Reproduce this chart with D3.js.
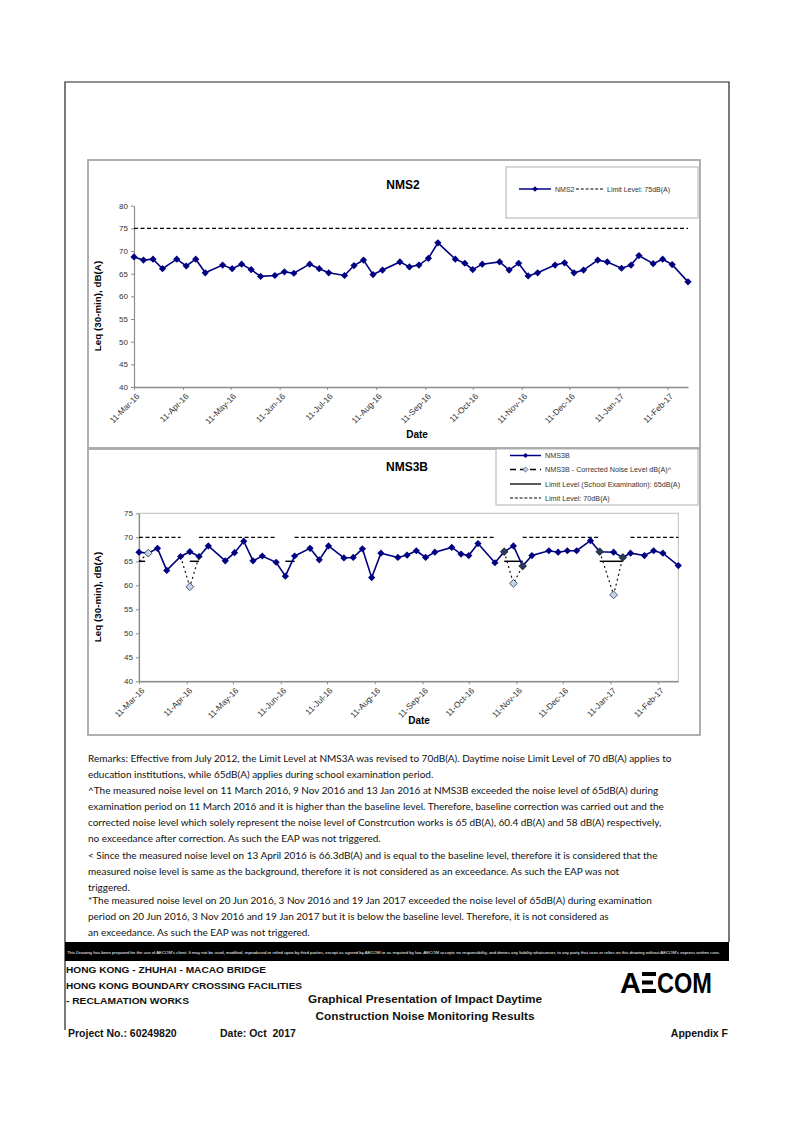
<!DOCTYPE html>
<html>
<head>
<meta charset="utf-8">
<script src="https://cdn.jsdelivr.net/npm/d3@7"></script>
<style>
  body { margin: 0; background: #fff; }
  svg { display: block; }
  .ax text { font-family: "Liberation Sans", Arial, sans-serif; font-size: 8px; fill: #333; }
  .ax path, .ax line { stroke: #8c8c8c; }
</style>
</head>
<body>
<svg id="page" width="794" height="1122"></svg>
<script>
// sampling dates, shared by both stations
const dates = [
  "2016-03-11","2016-03-17","2016-03-23","2016-03-29","2016-04-07","2016-04-13","2016-04-19","2016-04-25",
  "2016-05-06","2016-05-12","2016-05-18","2016-05-24","2016-05-30","2016-06-08","2016-06-14","2016-06-20",
  "2016-06-30","2016-07-06","2016-07-12","2016-07-22","2016-07-28","2016-08-03","2016-08-09","2016-08-15",
  "2016-08-26","2016-09-01","2016-09-07","2016-09-13","2016-09-19","2016-09-30","2016-10-06","2016-10-11",
  "2016-10-17","2016-10-28","2016-11-03","2016-11-09","2016-11-15","2016-11-21","2016-12-02","2016-12-08",
  "2016-12-14","2016-12-20","2016-12-29","2017-01-04","2017-01-13","2017-01-19","2017-01-24","2017-02-02",
  "2017-02-08","2017-02-14","2017-02-24"
];

const nms2 = [
  68.7, 68.0, 68.2, 66.1, 68.2, 66.7, 68.2, 65.2,
  66.9, 66.1, 67.1, 65.9, 64.4, 64.6, 65.4, 65.1,
  67.1, 66.1, 65.2, 64.6, 66.8, 68.0, 64.8, 65.8,
  67.6, 66.5, 66.9, 68.4, 71.8, 68.2, 67.3, 65.9,
  67.1, 67.6, 65.8, 67.3, 64.5, 65.2, 66.9, 67.4,
  65.2, 65.8, 68.0, 67.6, 66.2, 66.9, 69.0, 67.2,
  68.2, 67.0, 63.2
];

const nms3b = [
  66.9, 66.7, 67.7, 63.1, 66.0, 67.0, 66.0, 68.2,
  65.1, 66.8, 69.2, 65.1, 66.1, 64.8, 61.9, 66.1,
  67.7, 65.3, 68.2, 65.7, 65.8, 67.6, 61.6, 66.7,
  65.8, 66.3, 67.2, 65.8, 66.9, 67.9, 66.5, 66.2,
  68.7, 64.7, 67.0, 68.2, 64.0, 66.2, 67.2, 66.9,
  67.2, 67.2, 69.3, 67.0, 66.9, 65.8, 66.7, 66.2,
  67.2, 66.7, 64.1
];

// corrected noise level runs (dotted), and the corrected points themselves
const correctedRuns = [
  [["2016-03-11", 65.0], ["2016-03-17", 66.7]],
  [["2016-04-07", 66.0], ["2016-04-13", 59.7], ["2016-04-19", 66.0]],
  [["2016-11-03", 67.0], ["2016-11-09", 60.4], ["2016-11-15", 64.0]],
  [["2017-01-04", 67.0], ["2017-01-13", 58.0], ["2017-01-19", 65.8]]
];
const correctedPoints = [["2016-03-17", 66.7], ["2016-04-13", 59.7], ["2016-11-09", 60.4], ["2017-01-13", 58.0]];
const runEnds = [["2016-11-03", 67.0], ["2016-11-15", 64.0], ["2017-01-04", 67.0], ["2017-01-19", 65.8]];

// limit periods for NMS3B
const examPeriods = [["2016-03-11","2016-03-15"], ["2016-04-13","2016-04-19"], ["2016-06-14","2016-06-20"],
                     ["2016-11-03","2016-11-15"], ["2017-01-04","2017-01-19"]];
const limit70Periods = [["2016-03-11","2016-04-07"], ["2016-04-19","2016-06-08"], ["2016-06-20","2016-10-28"],
                        ["2016-11-15","2017-01-04"], ["2017-01-24","2017-02-24"]];

const tickDates = ["2016-03-11","2016-04-11","2016-05-11","2016-06-11","2016-07-11","2016-08-11",
                   "2016-09-11","2016-10-11","2016-11-11","2016-12-11","2017-01-11","2017-02-11"];
const yTicks2 = [40, 45, 50, 55, 60, 65, 70, 75, 80];
const yTicks3 = [40, 45, 50, 55, 60, 65, 70, 75];

const remarks = [
  "Remarks: Effective from July 2012, the Limit Level at NMS3A was revised to 70dB(A). Daytime noise Limit Level of 70 dB(A) applies to",
  "education institutions, while 65dB(A) applies during school examination period.",
  "^The measured noise level on 11 March 2016,  9 Nov 2016 and 13 Jan 2016 at NMS3B exceeded the noise level of 65dB(A) during",
  "examination period on 11 March 2016 and it is higher than the baseline level. Therefore, baseline correction was carried out and the",
  "corrected noise level which solely represent the noise level of Constrcution works is 65 dB(A), 60.4 dB(A) and 58 dB(A) respectively,",
  "no exceedance after correction.  As such the EAP was not triggered.",
  "< Since the measured noise level on 13 April 2016 is 66.3dB(A) and is equal to the baseline level, therefore it is considered that the",
  "measured noise level is same as the background, therefore it is not considered as an exceedance. As such the EAP was not",
  "triggered.",
  "*The measured noise level on 20 Jun 2016, 3 Nov 2016 and 19 Jan 2017 exceeded the noise level of 65dB(A) during examination",
  "period on 20 Jun 2016, 3 Nov 2016 and 19 Jan 2017 but it is below the baseline level. Therefore, it is not considered as",
  "an exceedance. As such the EAP was not triggered."
];
const remarkY = [762, 778, 794, 810, 826, 842, 859, 875, 891, 904, 920, 936];

const parse = d3.timeParse("%Y-%m-%d");
const fmt = d3.timeFormat("%d-%b-%y");
const ARIAL = '"Liberation Sans", Arial, sans-serif';
const NAVY = "#000080";

const svg = d3.select("#page");

// page frame
svg.append("path")
  .attr("d", "M65,1030 V82 H729 V942")
  .attr("fill", "none").attr("stroke", "#222").attr("stroke-width", 1.2);

const diamond = r => `M0,${-r}L${r},0L0,${r}L${-r},0Z`;

function drawChart(o) {
  const g = svg.append("g");
  g.append("rect").attr("x", o.box[0]).attr("y", o.box[1])
    .attr("width", o.box[2] - o.box[0]).attr("height", o.box[3] - o.box[1])
    .attr("fill", "#fff").attr("stroke", "#a8a8a8").attr("stroke-width", 1.8);

  const x = d3.scaleTime().domain([parse(dates[0]), parse(dates[dates.length - 1])]).range(o.xr);
  const y = d3.scaleLinear().domain(o.yd).range(o.yr);

  if (o.plotBorder) {
    g.append("rect").attr("x", o.xr[0]).attr("y", o.yr[1])
      .attr("width", o.xr[1] - o.xr[0]).attr("height", o.yr[0] - o.yr[1])
      .attr("fill", "none").attr("stroke", "#bcbcbc").attr("stroke-width", 1);
  }

  g.append("g").attr("class", "ax")
    .attr("transform", `translate(${o.xr[0]},0)`)
    .call(d3.axisLeft(y).tickValues(o.yTicks).tickSize(3).tickSizeOuter(0).tickPadding(3))
    .call(a => a.select(".domain").attr("stroke-width", 1.2));

  const xa = g.append("g").attr("class", "ax")
    .attr("transform", `translate(0,${o.yr[0]})`)
    .call(d3.axisBottom(x).tickValues(tickDates.map(parse)).tickFormat(fmt).tickSize(3).tickSizeOuter(0))
    .call(a => a.select(".domain").attr("stroke-width", 1.6));
  xa.selectAll("text")
    .attr("x", -3).attr("y", 8).attr("dy", "0.35em")
    .attr("transform", "rotate(-45)")
    .style("text-anchor", "end").style("font-size", "8.4px");

  g.append("text").attr("x", o.title[1]).attr("y", o.title[2])
    .attr("text-anchor", "middle").attr("font-family", ARIAL).attr("font-weight", "bold")
    .attr("font-size", 12).text(o.title[0]);
  g.append("text").attr("x", o.dateY[0]).attr("y", o.dateY[1])
    .attr("text-anchor", "middle").attr("font-family", ARIAL).attr("font-weight", "bold")
    .attr("font-size", 10).text("Date");
  g.append("text")
    .attr("transform", `translate(${o.yLab[0]},${o.yLab[1]}) rotate(-90)`)
    .attr("text-anchor", "middle").attr("font-family", ARIAL).attr("font-weight", "bold")
    .attr("font-size", 9.8).text("Leq (30-min), dB(A)");

  return { g, x, y };
}

function drawSeries(c, values) {
  const pts = dates.map((d, i) => [parse(d), values[i]]);
  c.g.append("path").datum(pts)
    .attr("d", d3.line().x(d => c.x(d[0])).y(d => c.y(d[1])))
    .attr("fill", "none").attr("stroke", NAVY).attr("stroke-width", 1.6);
  c.g.append("g").selectAll("path").data(pts).join("path")
    .attr("transform", d => `translate(${c.x(d[0])},${c.y(d[1])})`)
    .attr("d", diamond(3.6)).attr("fill", NAVY);
}

// ---------- NMS2 ----------
const c2 = drawChart({
  box: [88, 160, 700, 448], xr: [134, 688], yd: [40, 80], yr: [387, 205.7], yTicks: yTicks2,
  title: ["NMS2", 403, 189], dateY: [417, 438], yLab: [101, 306]
});
c2.g.append("line")
  .attr("x1", c2.x.range()[0]).attr("x2", c2.x.range()[1])
  .attr("y1", c2.y(75)).attr("y2", c2.y(75))
  .attr("stroke", "#000").attr("stroke-width", 1.3).attr("stroke-dasharray", "4,2.5");
drawSeries(c2, nms2);

// legend NMS2
{
  const lg = c2.g.append("g");
  lg.append("rect").attr("x", 506).attr("y", 167).attr("width", 192).attr("height", 51)
    .attr("fill", "#fff").attr("stroke", "#b0b0b0").attr("stroke-width", 1);
  lg.append("line").attr("x1", 519).attr("x2", 551).attr("y1", 189).attr("y2", 189)
    .attr("stroke", NAVY).attr("stroke-width", 1.5);
  lg.append("path").attr("transform", "translate(535,189)").attr("d", diamond(2.8)).attr("fill", NAVY);
  lg.append("text").attr("x", 555).attr("y", 191.5).attr("font-family", ARIAL).attr("font-size", 7)
    .attr("fill", "#333").text("NMS2");
  lg.append("line").attr("x1", 576).attr("x2", 604).attr("y1", 189).attr("y2", 189)
    .attr("stroke", "#000").attr("stroke-width", 1.2).attr("stroke-dasharray", "3,1.8");
  lg.append("text").attr("x", 607).attr("y", 191.5).attr("font-family", ARIAL).attr("font-size", 7)
    .attr("fill", "#333").text("Limit Level: 75dB(A)");
}

// ---------- NMS3B ----------
const c3 = drawChart({
  box: [88, 449, 700, 735], xr: [139, 678.3], yd: [40, 75], yr: [681.3, 513.3], yTicks: yTicks3,
  title: ["NMS3B", 407, 471], dateY: [419, 724], yLab: [101, 597], plotBorder: true
});

limit70Periods.forEach(p => {
  c3.g.append("line")
    .attr("x1", c3.x(parse(p[0]))).attr("x2", c3.x(parse(p[1])))
    .attr("y1", c3.y(70)).attr("y2", c3.y(70))
    .attr("stroke", "#000").attr("stroke-width", 1.3).attr("stroke-dasharray", "4,2.5");
});
examPeriods.forEach(p => {
  c3.g.append("line")
    .attr("x1", c3.x(parse(p[0]))).attr("x2", c3.x(parse(p[1])))
    .attr("y1", c3.y(65)).attr("y2", c3.y(65))
    .attr("stroke", "#000").attr("stroke-width", 1.5);
});

drawSeries(c3, nms3b);

const runLine = d3.line().x(d => c3.x(parse(d[0]))).y(d => c3.y(d[1]));
correctedRuns.forEach(r => {
  c3.g.append("path").datum(r).attr("d", runLine)
    .attr("fill", "none").attr("stroke", "#000").attr("stroke-width", 1.1)
    .attr("stroke-dasharray", "2,3");
});
c3.g.append("g").selectAll("path").data(runEnds).join("path")
  .attr("transform", d => `translate(${c3.x(parse(d[0]))},${c3.y(d[1])})`)
  .attr("d", diamond(3.9)).attr("fill", "#2b3b57").attr("stroke", "#1a2233").attr("stroke-width", 0.6);
c3.g.append("g").selectAll("path").data(correctedPoints).join("path")
  .attr("transform", d => `translate(${c3.x(parse(d[0]))},${c3.y(d[1])})`)
  .attr("d", diamond(3.9)).attr("fill", "#c6d3e8").attr("stroke", "#3a4a66").attr("stroke-width", 0.9);

// legend NMS3B
{
  const lg = c3.g.append("g");
  lg.append("rect").attr("x", 496).attr("y", 449).attr("width", 202).attr("height", 56)
    .attr("fill", "#fff").attr("stroke", "#b0b0b0").attr("stroke-width", 1);
  const rows = [455.5, 469.5, 484, 498];
  const labels = ["NMS3B", "NMS3B - Corrected Noise Level dB(A)^",
                  "Limit Level (School Examination): 65dB(A)", "Limit Level: 70dB(A)"];
  lg.append("line").attr("x1", 510).attr("x2", 541).attr("y1", rows[0]).attr("y2", rows[0])
    .attr("stroke", NAVY).attr("stroke-width", 1.5);
  lg.append("path").attr("transform", `translate(525.5,${rows[0]})`).attr("d", diamond(2.6)).attr("fill", NAVY);
  lg.append("line").attr("x1", 510).attr("x2", 541).attr("y1", rows[1]).attr("y2", rows[1])
    .attr("stroke", "#000").attr("stroke-width", 1.4).attr("stroke-dasharray", "6,4");
  lg.append("path").attr("transform", `translate(525.5,${rows[1]})`).attr("d", diamond(2.6))
    .attr("fill", "#c6d3e8").attr("stroke", "#3a4a66").attr("stroke-width", 0.7);
  lg.append("line").attr("x1", 510).attr("x2", 541).attr("y1", rows[2]).attr("y2", rows[2])
    .attr("stroke", "#000").attr("stroke-width", 1.3);
  lg.append("line").attr("x1", 510).attr("x2", 541).attr("y1", rows[3]).attr("y2", rows[3])
    .attr("stroke", "#000").attr("stroke-width", 1.2).attr("stroke-dasharray", "3,1.8");
  labels.forEach((t, i) => lg.append("text").attr("x", 545).attr("y", rows[i] + 2.5)
    .attr("font-family", ARIAL).attr("font-size", 7.2).attr("fill", "#333").text(t));
}

// ---------- remarks ----------
const rg = svg.append("g").attr("font-family", "Lato, 'Open Sans', sans-serif").attr("fill", "#111");
const first = rg.append("text").attr("x", 88).attr("y", remarkY[0]).attr("font-size", 10).text(remarks[0]);
const fs = 10 * 584 / first.node().getComputedTextLength();
first.attr("font-size", fs);
remarks.slice(1).forEach((t, i) => {
  rg.append("text").attr("x", 88).attr("y", remarkY[i + 1]).attr("font-size", fs).text(t);
});

// ---------- disclaimer bar ----------
svg.append("rect").attr("x", 65).attr("y", 942).attr("width", 664).attr("height", 19).attr("fill", "#000");
const disc = svg.append("text").attr("x", 67).attr("y", 953.5)
  .attr("font-family", '"Liberation Sans Narrow", "Liberation Sans", Arial, sans-serif')
  .attr("font-size", 5).attr("fill", "#fff")
  .text("This Drawing has been prepared for the use of AECOM's client. It may not be used, modified, reproduced or relied upon by third parties, except as agreed by AECOM or as required by law. AECOM accepts no responsibility, and denies any liability whatsoever, to any party that uses or relies on this drawing without AECOM's express written cons");
disc.attr("font-size", 5 * 654 / disc.node().getComputedTextLength());

// ---------- title block ----------
const tb = svg.append("g").attr("font-family", ARIAL).attr("font-weight", "bold").attr("fill", "#111");
[["HONG KONG - ZHUHAI - MACAO BRIDGE", 973, 200], ["HONG KONG BOUNDARY CROSSING FACILITIES", 988.5, 236],
 ["- RECLAMATION WORKS", 1004, 123]].forEach(r => {
  tb.append("text").attr("x", 66).attr("y", r[1]).attr("font-size", 9.2)
    .attr("textLength", r[2]).attr("lengthAdjust", "spacingAndGlyphs").text(r[0]);
});
tb.append("text").attr("x", 425).attr("y", 1003).attr("text-anchor", "middle").attr("font-size", 11.8)
  .text("Graphical Presentation of Impact Daytime");
tb.append("text").attr("x", 425).attr("y", 1020).attr("text-anchor", "middle").attr("font-size", 11.8)
  .text("Construction Noise Monitoring Results");
tb.append("text").attr("x", 68).attr("y", 1037).attr("font-size", 10.5).text("Project No.: 60249820");
tb.append("text").attr("x", 220).attr("y", 1037).attr("font-size", 10.5).attr("xml:space", "preserve")
  .text("Date: Oct  2017");
tb.append("text").attr("x", 728).attr("y", 1037).attr("text-anchor", "end").attr("font-size", 10.5)
  .text("Appendix F");

// AECOM logo
const logo = svg.append("g").attr("fill", "#000");
logo.append("text").attr("x", 620).attr("y", 993).attr("font-family", ARIAL).attr("font-weight", "900")
  .attr("font-size", 29).attr("textLength", 21).attr("lengthAdjust", "spacingAndGlyphs").text("A");
[972, 980.5, 989].forEach((yy, i) => {
  logo.append("rect").attr("x", 642).attr("y", yy).attr("width", i === 1 ? 11 : 14).attr("height", 4);
});
logo.append("text").attr("x", 657).attr("y", 993).attr("font-family", ARIAL).attr("font-weight", "900")
  .attr("font-size", 29).attr("textLength", 55).attr("lengthAdjust", "spacingAndGlyphs").text("COM");
</script>
</body>
</html>
